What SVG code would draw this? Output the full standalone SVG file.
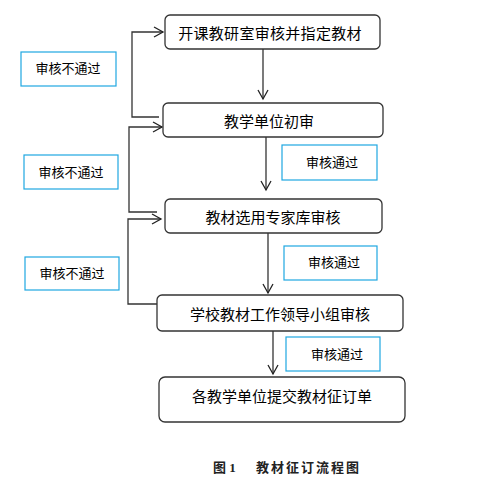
<svg xmlns="http://www.w3.org/2000/svg" width="493" height="488" viewBox="0 0 493 488">
<defs>
<marker id="ah" markerWidth="12" markerHeight="12" refX="10" refY="6" orient="auto" markerUnits="userSpaceOnUse">
<path d="M1,1 L10,6 L1,11" fill="none" stroke="#222" stroke-width="1.3"/>
</marker>
<style>
.node rect{fill:#fff;stroke:#333;stroke-width:1.3}
.node text{font-family:"Noto Sans CJK SC",sans-serif;font-size:15px;fill:#000;text-anchor:middle}
.lbl rect{fill:#fff;stroke:#1ea7e1;stroke-width:1.2}
.lbl text{font-family:"Noto Sans CJK SC",sans-serif;font-size:13px;fill:#000;text-anchor:middle}
.conn path{fill:none;stroke:#333;stroke-width:1.3}
.cap{font-family:"Liberation Serif","Noto Sans CJK SC",serif;font-size:13px;font-weight:bold;fill:#222}
</style>
</defs>
<rect width="493" height="488" fill="#fff"/>
<g id="connectors" class="conn">
<path d="M263,49 V99" marker-end="url(#ah)"/>
<path d="M266,137 V190" marker-end="url(#ah)"/>
<path d="M268,233 V293" marker-end="url(#ah)"/>
<path d="M273,331 V374" marker-end="url(#ah)"/>
<path d="M159,117 H132 V32 H163" marker-end="url(#ah)"/>
<path d="M157,212 H129 V127 H162" marker-end="url(#ah)"/>
<path d="M157,304 H128 V219 H161" marker-end="url(#ah)"/>
</g>
<g id="n1" class="node"><rect x="165" y="15" width="215" height="34" rx="5"/><text x="270" y="39" letter-spacing="0.3">开课教研室审核并指定教材</text></g>
<g id="n2" class="node"><rect x="163" y="103" width="220" height="34" rx="5"/><text x="269" y="127">教学单位初审</text></g>
<g id="n3" class="node"><rect x="165" y="199" width="217" height="34" rx="5"/><text x="273" y="223">教材选用专家库审核</text></g>
<g id="n4" class="node"><rect x="157" y="295" width="246" height="36" rx="5"/><text x="280" y="320">学校教材工作领导小组审核</text></g>
<g id="n5" class="node"><rect x="159" y="377" width="246" height="45" rx="6"/><text x="282" y="402">各教学单位提交教材征订单</text></g>
<g id="l1" class="lbl"><rect x="21" y="52" width="95" height="34"/><text x="68" y="73">审核不通过</text></g>
<g id="l2" class="lbl"><rect x="24" y="155" width="94" height="34"/><text x="71" y="177">审核不通过</text></g>
<g id="l3" class="lbl"><rect x="25" y="257" width="94" height="33"/><text x="72" y="278">审核不通过</text></g>
<g id="p1" class="lbl"><rect x="282" y="145" width="95" height="35"/><text x="332" y="167">审核通过</text></g>
<g id="p2" class="lbl"><rect x="284" y="246" width="93" height="34"/><text x="334" y="267">审核通过</text></g>
<g id="p3" class="lbl"><rect x="286" y="337" width="94" height="34"/><text x="337" y="359">审核通过</text></g>
<g id="caption">
<text class="cap" x="213" y="472">图 1</text>
<text class="cap" x="256" y="472" letter-spacing="2">教材征订流程图</text>
</g>
</svg>
